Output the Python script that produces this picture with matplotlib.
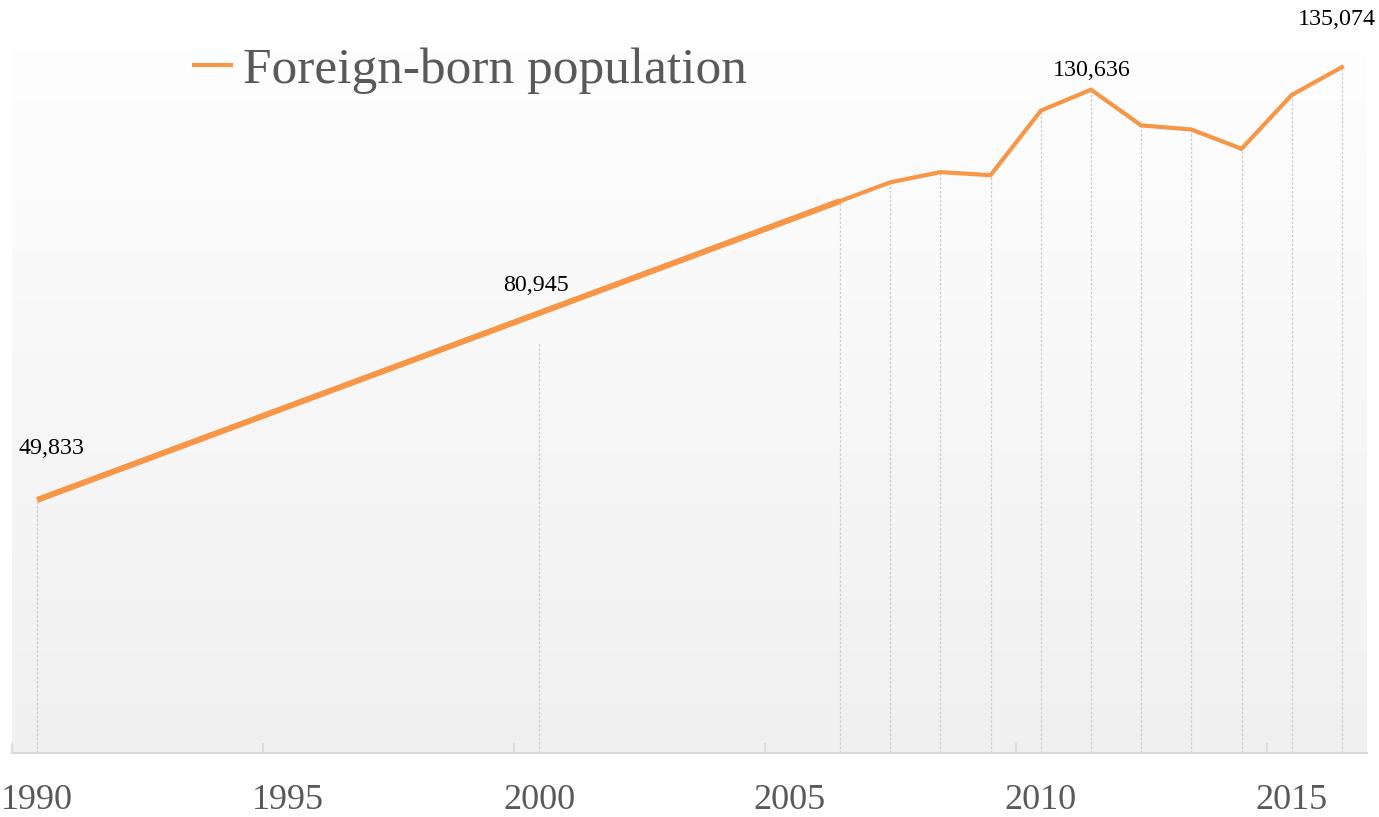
import numpy as np
import matplotlib
matplotlib.use("Agg")
from matplotlib import pyplot as plt
from matplotlib.colors import LinearSegmentedColormap


# data

years = [1990, 2000, 2006, 2007, 2008, 2009, 2010, 2011, 2012, 2013, 2014, 2015, 2016]
population = [49833, 80945, 108700, 112400, 114400, 113800, 126500, 130636,
              123600, 122800, 119000, 129600, 135074]
labelled_years = [1990, 2000, 2011, 2016]
tick_years = [1990, 1995, 2000, 2005, 2010, 2015]

orange = "#f79646"
gray_text = "#595959"
serif = ["Liberation Serif", "DejaVu Serif"]

W, H = 1379, 817
fig = plt.figure(figsize=(W / 100, H / 100), dpi=100)
ax = fig.add_axes([12 / W, (H - 753) / H, (1367 - 12) / W, 753 / H])

ax.set_xlim(1989.5, 2016.5)
ax.set_ylim(0, 148300)

# gradient background of the plot area
cmap = LinearSegmentedColormap.from_list("bg", ["#f0f0f0", "#ffffff"])
grad = np.linspace(0, 1, 256).reshape(-1, 1)
ax.imshow(grad, cmap=cmap, aspect="auto", origin="lower",
          extent=[1989.5, 2016.5, 0, 148300], zorder=0)

# drop lines
ax.vlines(years, 0, population, colors="#cccccc", linewidth=0.9,
          linestyles=(0, (2, 1.5)), zorder=1)

# the line: thick straight part up to 2006, thinner afterwards
i06 = years.index(2006)
ax.plot([years[0], years[i06]], [population[0], population[i06]],
        color=orange, linewidth=4.3, solid_capstyle="butt", zorder=3,
        label="Foreign-born population")
ax.plot(years[i06:], population[i06:], color=orange, linewidth=3.0,
        solid_joinstyle="miter", zorder=3)

# data labels (offsets in pixels)
offsets = {1990: (14, 46), 2000: (-3, 51), 2011: (1, 14), 2016: (-5, 42)}
for yr in labelled_years:
    v = population[years.index(yr)]
    dx, dy = offsets[yr]
    ax.annotate(f"{v:,}", (yr, v), xytext=(dx * 0.72, dy * 0.72),
                textcoords="offset points", ha="center", va="baseline",
                fontsize=17.3, family=serif, color="black", zorder=4)

# axes styling
for side in ["top", "left", "right"]:
    ax.spines[side].set_visible(False)
ax.spines["bottom"].set_color("#d9d9d9")
ax.spines["bottom"].set_linewidth(1.5)
ax.set_yticks([])

ax.set_xticks([t - 0.5 for t in tick_years])
ax.set_xticklabels([])
ax.tick_params(axis="x", which="major", direction="in", length=7,
               width=1.2, color="#d9d9d9")
ax.set_xticks(tick_years, minor=True)
ax.set_xticklabels([str(t) for t in tick_years], minor=True)
ax.tick_params(axis="x", which="minor", length=0, pad=22,
               labelsize=26, labelcolor=gray_text)
for lbl in ax.get_xticklabels(minor=True):
    lbl.set_family(serif)

# legend
leg = ax.legend(loc="upper left", bbox_to_anchor=(166 / W, 1 - 21 / H),
                bbox_transform=fig.transFigure, frameon=False,
                handlelength=0.8, handletextpad=0.2, borderpad=0,
                prop={"family": serif, "size": 37})
for txt in leg.get_texts():
    txt.set_color(gray_text)
for h in leg.legend_handles:
    h.set_linewidth(3.0)

fig.savefig("out.png", dpi=100)
